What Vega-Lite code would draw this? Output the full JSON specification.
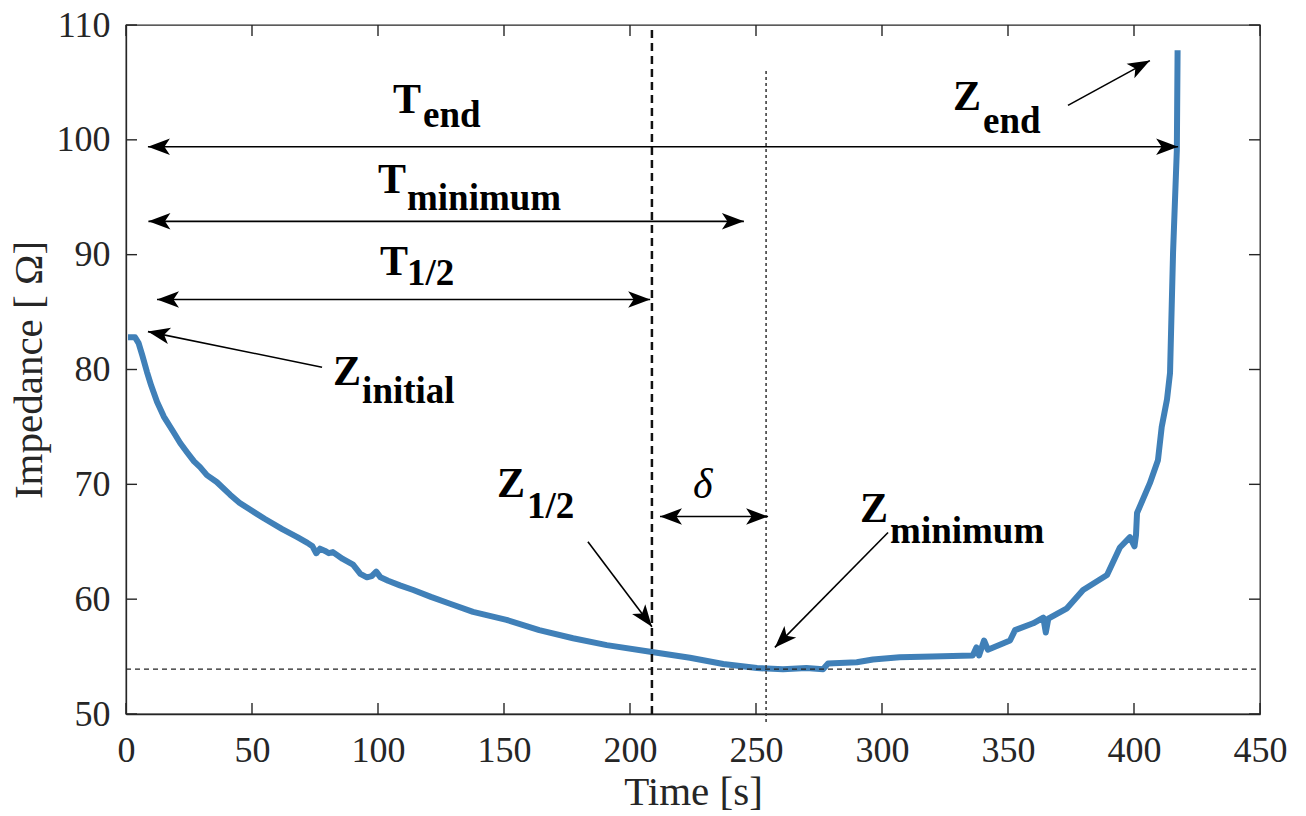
{
  "$schema": "https://vega.github.io/schema/vega-lite/v6.json",
  "width": 1134,
  "height": 689,
  "autosize": {"type": "none"},
  "padding": {"left": 126, "top": 25, "right": 46, "bottom": 102},
  "background": "white",
  "config": {
    "font": "Liberation Serif",
    "view": {"stroke": "#262626", "strokeWidth": 1.3},
    "axis": {
      "grid": false,
      "labelFont": "Liberation Serif",
      "titleFont": "Liberation Serif",
      "labelFontSize": 36,
      "titleFontSize": 41,
      "titleFontWeight": "normal",
      "labelColor": "#262626",
      "titleColor": "#262626",
      "domainColor": "#262626",
      "domainWidth": 1.3
    }
  },
  "datasets": {
    "curve": [
      {"t": 0.8, "z": 82.8}, {"t": 3.6, "z": 82.8}, {"t": 5.0, "z": 82.3}, {"t": 6.5, "z": 81.2}, {"t": 8.3, "z": 79.8},
      {"t": 10.0, "z": 78.6}, {"t": 12.3, "z": 77.2}, {"t": 15.0, "z": 75.9}, {"t": 18.7, "z": 74.6}, {"t": 21.5, "z": 73.6},
      {"t": 24.2, "z": 72.8}, {"t": 27.0, "z": 72.0}, {"t": 29.4, "z": 71.5}, {"t": 32.1, "z": 70.8}, {"t": 36.0, "z": 70.2},
      {"t": 41.3, "z": 69.1}, {"t": 45.0, "z": 68.4}, {"t": 49.2, "z": 67.8}, {"t": 55.0, "z": 67.0}, {"t": 62.0, "z": 66.1},
      {"t": 68.0, "z": 65.4}, {"t": 72.0, "z": 64.9}, {"t": 74.0, "z": 64.6}, {"t": 75.5, "z": 64.0}, {"t": 77.0, "z": 64.4},
      {"t": 79.0, "z": 64.2}, {"t": 80.5, "z": 64.0}, {"t": 82.1, "z": 64.1}, {"t": 86.0, "z": 63.5}, {"t": 90.1, "z": 63.0},
      {"t": 93.0, "z": 62.2}, {"t": 95.6, "z": 61.9}, {"t": 97.5, "z": 62.0}, {"t": 99.3, "z": 62.4},
      {"t": 101.0, "z": 61.9}, {"t": 104.0, "z": 61.6}, {"t": 108.7, "z": 61.2}, {"t": 114.0, "z": 60.8},
      {"t": 121.0, "z": 60.2}, {"t": 128.6, "z": 59.6}, {"t": 137.7, "z": 58.9}, {"t": 151.0, "z": 58.2},
      {"t": 164.0, "z": 57.3}, {"t": 177.4, "z": 56.6}, {"t": 190.8, "z": 56.0}, {"t": 208.7, "z": 55.4},
      {"t": 223.8, "z": 54.9}, {"t": 237.0, "z": 54.35}, {"t": 250.4, "z": 54.0}, {"t": 260.7, "z": 53.9},
      {"t": 270.0, "z": 54.0}, {"t": 276.6, "z": 53.9}, {"t": 278.6, "z": 54.4}, {"t": 290.0, "z": 54.5},
      {"t": 296.4, "z": 54.75}, {"t": 307.0, "z": 54.95}, {"t": 320.0, "z": 55.0}, {"t": 336.0, "z": 55.1},
      {"t": 337.5, "z": 55.8}, {"t": 338.5, "z": 55.1}, {"t": 340.5, "z": 56.4}, {"t": 342.0, "z": 55.6},
      {"t": 350.8, "z": 56.4}, {"t": 352.8, "z": 57.3}, {"t": 360.0, "z": 57.9}, {"t": 364.0, "z": 58.4},
      {"t": 365.0, "z": 57.1}, {"t": 366.0, "z": 58.3}, {"t": 373.4, "z": 59.2}, {"t": 379.8, "z": 60.8},
      {"t": 389.3, "z": 62.1}, {"t": 394.4, "z": 64.5}, {"t": 398.4, "z": 65.4}, {"t": 400.2, "z": 64.6},
      {"t": 400.8, "z": 65.6}, {"t": 401.2, "z": 67.5}, {"t": 406.3, "z": 70.1}, {"t": 409.5, "z": 72.1},
      {"t": 411.0, "z": 75.0}, {"t": 413.1, "z": 77.4}, {"t": 414.3, "z": 79.7}, {"t": 415.5, "z": 90.2},
      {"t": 417.0, "z": 99.1}, {"t": 417.3, "z": 107.8}
    ],
    "xticks": [{"v": 0}, {"v": 50}, {"v": 100}, {"v": 150}, {"v": 200}, {"v": 250}, {"v": 300}, {"v": 350}, {"v": 400}, {"v": 450}],
    "yticks": [{"v": 50}, {"v": 60}, {"v": 70}, {"v": 80}, {"v": 90}, {"v": 100}, {"v": 110}],
    "shafts": [
      {"name": "T_end", "x1": 8.7, "y1": 99.4, "x2": 417.5, "y2": 99.4},
      {"name": "T_minimum", "x1": 8.9, "y1": 92.9, "x2": 245.2, "y2": 92.9},
      {"name": "T_half", "x1": 12.3, "y1": 86.1, "x2": 208.0, "y2": 86.1},
      {"name": "delta", "x1": 211.9, "y1": 67.2, "x2": 254.8, "y2": 67.2},
      {"name": "Z_initial", "x1": 77.8, "y1": 80.2, "x2": 8.7, "y2": 83.3},
      {"name": "Z_half", "x1": 183.3, "y1": 65.0, "x2": 208.7, "y2": 57.6},
      {"name": "Z_minimum", "x1": 302.4, "y1": 65.8, "x2": 257.5, "y2": 55.8},
      {"name": "Z_end", "x1": 373.8, "y1": 103.0, "x2": 406.3, "y2": 106.9}
    ],
    "headsLeft": [
      {"t": 8.7, "z": 99.4}, {"t": 8.9, "z": 92.9}, {"t": 12.3, "z": 86.1}, {"t": 211.9, "z": 67.2}
    ],
    "headsRight": [
      {"t": 417.5, "z": 99.4}, {"t": 245.2, "z": 92.9}, {"t": 208.0, "z": 86.1}, {"t": 254.8, "z": 67.2}
    ],
    "bigLetters": [
      {"s": "T", "t": 106.0, "z": 102.35},
      {"s": "T", "t": 100.0, "z": 95.38},
      {"s": "T", "t": 100.8, "z": 88.24},
      {"s": "Z", "t": 82.1, "z": 78.66},
      {"s": "Z", "t": 147.2, "z": 68.9},
      {"s": "Z", "t": 291.3, "z": 66.7},
      {"s": "Z", "t": 328.2, "z": 102.6}
    ],
    "subs": [
      {"s": "end", "t": 117.9, "z": 101.13},
      {"s": "minimum", "t": 111.5, "z": 93.9},
      {"s": "1/2", "t": 111.5, "z": 87.37},
      {"s": "initial", "t": 93.7, "z": 77.1},
      {"s": "1/2", "t": 159.1, "z": 67.07},
      {"s": "minimum", "t": 303.2, "z": 64.9},
      {"s": "end", "t": 340.1, "z": 100.6}
    ]
  },
  "layer": [
    {
      "data": {"name": "curve"},
      "mark": {"type": "line", "color": "#4080b8", "strokeWidth": 6, "strokeJoin": "round", "strokeCap": "butt"},
      "encoding": {
        "x": {"field": "t", "type": "quantitative", "scale": {"domain": [0, 450], "nice": false, "zero": false},
              "axis": {"orient": "bottom", "title": "Time [s]", "values": [0, 50, 100, 150, 200, 250, 300, 350, 400, 450], "ticks": false, "labelPadding": 19, "titlePadding": 4, "labelFlush": false}},
        "y": {"field": "z", "type": "quantitative", "scale": {"domain": [50, 110], "nice": false, "zero": false},
              "axis": {"orient": "left", "title": "Impedance [ Ω]", "values": [50, 60, 70, 80, 90, 100, 110], "ticks": false, "labelPadding": 16, "titlePadding": 6, "labelFlush": false}}
      }
    },
    {
      "data": {"name": "xticks"},
      "mark": {"type": "rule", "color": "#262626", "strokeWidth": 1.4},
      "encoding": {
        "x": {"field": "v", "type": "quantitative"},
        "y": {"datum": 50, "type": "quantitative"},
        "y2": {"datum": 50.96}
      }
    },
    {
      "data": {"name": "xticks"},
      "mark": {"type": "rule", "color": "#262626", "strokeWidth": 1.4},
      "encoding": {
        "x": {"field": "v", "type": "quantitative"},
        "y": {"datum": 110, "type": "quantitative"},
        "y2": {"datum": 109.04}
      }
    },
    {
      "data": {"name": "yticks"},
      "mark": {"type": "rule", "color": "#262626", "strokeWidth": 1.4},
      "encoding": {
        "y": {"field": "v", "type": "quantitative"},
        "x": {"datum": 0, "type": "quantitative"},
        "x2": {"datum": 4.37}
      }
    },
    {
      "data": {"name": "yticks"},
      "mark": {"type": "rule", "color": "#262626", "strokeWidth": 1.4},
      "encoding": {
        "y": {"field": "v", "type": "quantitative"},
        "x": {"datum": 450, "type": "quantitative"},
        "x2": {"datum": 445.63}
      }
    },
    {
      "data": {"values": [{"level": 53.9, "from": 0, "to": 450}]},
      "mark": {"type": "rule", "color": "#222222", "strokeWidth": 1.3, "strokeDash": [5, 4]},
      "encoding": {
        "x": {"field": "from", "type": "quantitative"},
        "x2": {"field": "to"},
        "y": {"field": "level", "type": "quantitative"}
      }
    },
    {
      "data": {"values": [{"t": 208.7, "lo": 50, "hi": 109.7}]},
      "mark": {"type": "rule", "color": "#111111", "strokeWidth": 2.5, "strokeDash": [8, 5]},
      "encoding": {
        "x": {"field": "t", "type": "quantitative"},
        "y": {"field": "lo", "type": "quantitative"},
        "y2": {"field": "hi"}
      }
    },
    {
      "data": {"values": [{"t": 254.0, "lo": 49.3, "hi": 106.2}]},
      "mark": {"type": "rule", "color": "#333333", "strokeWidth": 1.5, "strokeDash": [3, 3]},
      "encoding": {
        "x": {"field": "t", "type": "quantitative"},
        "y": {"field": "lo", "type": "quantitative"},
        "y2": {"field": "hi"}
      }
    },
    {
      "data": {"name": "shafts"},
      "mark": {"type": "rule", "color": "#000000", "strokeWidth": 1.6},
      "encoding": {
        "x": {"field": "x1", "type": "quantitative"},
        "y": {"field": "y1", "type": "quantitative"},
        "x2": {"field": "x2"},
        "y2": {"field": "y2"}
      }
    },
    {
      "data": {"name": "headsLeft"},
      "mark": {"type": "point", "shape": "M0,0 L-2,-0.75 L-1.5,0 L-2,0.75 Z", "size": 484, "angle": 180, "filled": true, "color": "#000000", "opacity": 1, "strokeWidth": 0},
      "encoding": {
        "x": {"field": "t", "type": "quantitative"},
        "y": {"field": "z", "type": "quantitative"}
      }
    },
    {
      "data": {"name": "headsRight"},
      "mark": {"type": "point", "shape": "M0,0 L-2,-0.75 L-1.5,0 L-2,0.75 Z", "size": 484, "angle": 0, "filled": true, "color": "#000000", "opacity": 1, "strokeWidth": 0},
      "encoding": {
        "x": {"field": "t", "type": "quantitative"},
        "y": {"field": "z", "type": "quantitative"}
      }
    },
    {
      "data": {"values": [{"t": 8.7, "z": 83.3}]},
      "mark": {"type": "point", "shape": "M0,0 L-2,-0.75 L-1.5,0 L-2,0.75 Z", "size": 484, "angle": 191.4, "filled": true, "color": "#000000", "opacity": 1, "strokeWidth": 0},
      "encoding": {
        "x": {"field": "t", "type": "quantitative"},
        "y": {"field": "z", "type": "quantitative"}
      }
    },
    {
      "data": {"values": [{"t": 208.7, "z": 57.6}]},
      "mark": {"type": "point", "shape": "M0,0 L-2,-0.75 L-1.5,0 L-2,0.75 Z", "size": 484, "angle": 53, "filled": true, "color": "#000000", "opacity": 1, "strokeWidth": 0},
      "encoding": {
        "x": {"field": "t", "type": "quantitative"},
        "y": {"field": "z", "type": "quantitative"}
      }
    },
    {
      "data": {"values": [{"t": 257.5, "z": 55.8}]},
      "mark": {"type": "point", "shape": "M0,0 L-2,-0.75 L-1.5,0 L-2,0.75 Z", "size": 484, "angle": 134.5, "filled": true, "color": "#000000", "opacity": 1, "strokeWidth": 0},
      "encoding": {
        "x": {"field": "t", "type": "quantitative"},
        "y": {"field": "z", "type": "quantitative"}
      }
    },
    {
      "data": {"values": [{"t": 406.3, "z": 106.9}]},
      "mark": {"type": "point", "shape": "M0,0 L-2,-0.75 L-1.5,0 L-2,0.75 Z", "size": 484, "angle": 331.8, "filled": true, "color": "#000000", "opacity": 1, "strokeWidth": 0},
      "encoding": {
        "x": {"field": "t", "type": "quantitative"},
        "y": {"field": "z", "type": "quantitative"}
      }
    },
    {
      "data": {"name": "bigLetters"},
      "mark": {"type": "text", "font": "Liberation Serif", "fontWeight": "bold", "fontSize": 42, "align": "left", "baseline": "alphabetic", "color": "#000000"},
      "encoding": {
        "x": {"field": "t", "type": "quantitative"},
        "y": {"field": "z", "type": "quantitative"},
        "text": {"field": "s"}
      }
    },
    {
      "data": {"name": "subs"},
      "mark": {"type": "text", "font": "Liberation Serif", "fontWeight": "bold", "fontSize": 37, "align": "left", "baseline": "alphabetic", "color": "#000000"},
      "encoding": {
        "x": {"field": "t", "type": "quantitative"},
        "y": {"field": "z", "type": "quantitative"},
        "text": {"field": "s"}
      }
    },
    {
      "data": {"values": [{"s": "δ", "t": 225.0, "z": 68.8}]},
      "mark": {"type": "text", "font": "Liberation Serif", "fontStyle": "italic", "fontSize": 42, "align": "left", "baseline": "alphabetic", "color": "#000000"},
      "encoding": {
        "x": {"field": "t", "type": "quantitative"},
        "y": {"field": "z", "type": "quantitative"},
        "text": {"field": "s"}
      }
    }
  ]
}
